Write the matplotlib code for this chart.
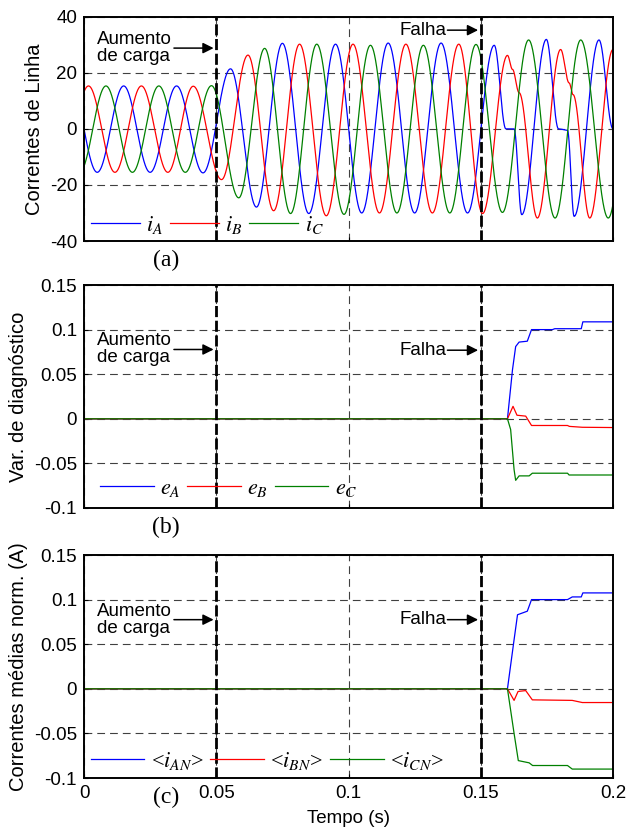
import numpy as np
import matplotlib.pyplot as plt
from matplotlib.lines import Line2D

plt.rcParams['font.family'] = ['Liberation Sans', 'DejaVu Sans']
plt.rcParams['mathtext.fontset'] = 'stix'
plt.rcParams['axes.unicode_minus'] = False

# (a) line currents: extrema (time, value)
iA_t = [-0.005, 0.005, 0.015, 0.025, 0.035, 0.045, 0.0554, 0.0652, 0.075, 0.085, 0.0951,
        0.105, 0.115, 0.125, 0.135, 0.145, 0.1551, 0.1595, 0.1626, 0.1655, 0.1748, 0.1794,
        0.1828, 0.1853, 0.1947, 0.2]
iA_v = [15.3, -15.5, 15.3, -15.5, 15.3, -15.7, 21.4, -27.9, 30.5, -30.2, 30.2,
        -30.0, 30.6, -30.0, 30.6, -30.0, 29.8, 0.0, 0.0, -30.6, 31.9, 0.0,
        -0.5, -31.2, 31.7, 0.0]
iB_t = [-0.0083, 0.0017, 0.0117, 0.0217, 0.0317, 0.0413, 0.052, 0.062, 0.0717, 0.0815,
        0.0916, 0.1017, 0.1117, 0.1217, 0.1317, 0.1417, 0.1507, 0.1601, 0.1620, 0.1645,
        0.1714, 0.1802, 0.1834, 0.1849, 0.1912, 0.2]
iB_v = [-15.5, 15.3, -15.5, 15.3, -15.5, 15.2, -18.1, 26.3, -29.2, 30.2,
        -31.0, 30.2, -30.0, 30.2, -30.0, 30.2, -30.2, 26.2, 21.2, 12.9,
        -31.8, 28.3, 16.4, 12.2, -31.8, 28.3]
iC_t = [-0.0017, 0.0083, 0.0183, 0.0283, 0.0383, 0.0482, 0.0585, 0.0683, 0.0781, 0.088,
        0.0983, 0.1083, 0.1183, 0.1283, 0.1383, 0.1482, 0.1582, 0.1681, 0.1781, 0.1878,
        0.1982, 0.2082]
iC_v = [-15.5, 15.3, -15.5, 15.3, -15.5, 15.4, -24.6, 28.7, -30.2, 30.2,
        -30.5, 29.8, -30.0, 29.8, -30.0, 30.1, -29.8, 31.7, -31.8, 31.7,
        -31.8, 31.7]

# (b) diagnostic variables
eA_t = [0, 0.1601, 0.1620, 0.1632, 0.1645, 0.1676, 0.1692, 0.1771, 0.1780, 0.1880, 0.1886, 0.2]
eA_v = [0, 0, 0.055, 0.081, 0.086, 0.087, 0.100, 0.100, 0.101, 0.101, 0.1087, 0.1087]
eB_t = [0, 0.1601, 0.1622, 0.1637, 0.1670, 0.1692, 0.1828, 0.1835, 0.1884, 0.2]
eB_v = [0, 0, 0.014, 0.004, 0.003, -0.0075, -0.0075, -0.0085, -0.0095, -0.0098]
eC_t = [0, 0.1601, 0.1613, 0.1626, 0.1632, 0.1645, 0.1683, 0.1695, 0.1828, 0.1834, 0.2]
eC_v = [0, 0, -0.012, -0.057, -0.069, -0.064, -0.064, -0.061, -0.061, -0.063, -0.063]

# (c) normalised mean currents
iAN_t = [0, 0.1601, 0.1626, 0.1639, 0.1676, 0.1692, 0.1828, 0.1846, 0.1880, 0.1886, 0.2]
iAN_v = [0, 0, 0.055, 0.083, 0.087, 0.100, 0.100, 0.103, 0.103, 0.1075, 0.1075]
iBN_t = [0, 0.1601, 0.1626, 0.1641, 0.1670, 0.1695, 0.1846, 0.1884, 0.2]
iBN_v = [0, 0, -0.013, -0.003, -0.002, -0.0124, -0.013, -0.0154, -0.0154]
iCN_t = [0, 0.1601, 0.1626, 0.1642, 0.1683, 0.1696, 0.1828, 0.1846, 0.2]
iCN_v = [0, 0, -0.050, -0.0805, -0.083, -0.086, -0.086, -0.090, -0.090]

x_ticks = [0, 0.05, 0.1, 0.15, 0.2]
x_labels = ['0', '0.05', '0.1', '0.15', '0.2']


def wave(tk, vk, t):
    # half-cosine segment between consecutive read extrema
    tk = np.asarray(tk); vk = np.asarray(vk)
    idx = np.clip(np.searchsorted(tk, t) - 1, 0, len(tk) - 2)
    t0, t1 = tk[idx], tk[idx + 1]
    v0, v1 = vk[idx], vk[idx + 1]
    s = np.clip((t - t0) / (t1 - t0), 0, 1)
    return v0 + (v1 - v0) * (1 - np.cos(np.pi * s)) / 2


FS = 13.5
colors = ['#0000ff', '#ff0000', '#008000']
fig = plt.figure(figsize=(6.28, 8.30), dpi=100)
L, W = 84 / 628, 529 / 628
ax1 = fig.add_axes([L, 1 - 241 / 830, W, 224.3 / 830])
ax2 = fig.add_axes([L, 1 - 508 / 830, W, 223 / 830])
ax3 = fig.add_axes([L, 1 - 778 / 830, W, 223 / 830])

t = np.linspace(0, 0.2, 8001)
for tk, vk, c in [(iA_t, iA_v, colors[0]), (iB_t, iB_v, colors[1]), (iC_t, iC_v, colors[2])]:
    ax1.plot(t, wave(tk, vk, t), color=c, lw=0.9)
for tk, vk, c in [(eA_t, eA_v, colors[0]), (eB_t, eB_v, colors[1]), (eC_t, eC_v, colors[2])]:
    ax2.plot(tk, vk, color=c, lw=0.9)
for tk, vk, c in [(iAN_t, iAN_v, colors[0]), (iBN_t, iBN_v, colors[1]), (iCN_t, iCN_v, colors[2])]:
    ax3.plot(tk, vk, color=c, lw=0.9)

ax1.set_ylim(-40, 40)
ax1.set_yticks([-40, -20, 0, 20, 40])
for ax in (ax2, ax3):
    ax.set_ylim(-0.1, 0.15)
    ax.set_yticks([-0.1, -0.05, 0, 0.05, 0.1, 0.15])
    ax.set_yticklabels(['-0.1', '-0.05', '0', '0.05', '0.1', '0.15'])

for ax in (ax1, ax2, ax3):
    ax.set_xlim(0, 0.2)
    ax.set_xticks(x_ticks)
    ax.set_xticklabels(x_labels if ax is ax3 else [])
    ax.grid(True, ls=(0, (7, 4.5)), color='0.25', lw=0.8)
    ax.tick_params(direction='in', length=3, labelsize=FS, pad=5)
    for s in ax.spines.values():
        s.set_linewidth(1.4)
    for xv in (0.05, 0.15):
        ax.axvline(xv, color='k', lw=2.0, ls=(0, (4, 1.3)), zorder=3)

ax1.set_ylabel('Correntes de Linha', fontsize=14.5)
ax2.set_ylabel('Var. de diagnóstico', fontsize=14.5)
ax3.set_ylabel('Correntes médias norm. (A)', fontsize=14.5)
ax3.set_xlabel('Tempo (s)', fontsize=FS, labelpad=6)

arrow = dict(arrowstyle='-|>', color='k', lw=1.1, mutation_scale=16, shrinkA=0, shrinkB=0)
for ax, ty in [(ax1, 28.8), (ax2, 0.0777), (ax3, 0.0775)]:
    ax.text(0.005, ty, 'Aumento\nde carga', fontsize=FS, ha='left', va='center', linespacing=1.0)
    ax.annotate('', xy=(0.049, ty), xytext=(0.0340, ty), arrowprops=arrow)
fy = [35.2, 0.0769, 0.0775]
for ax, ty in zip((ax1, ax2, ax3), fy):
    ax.text(0.1192, ty, 'Falha', fontsize=FS, ha='left', va='center')
    ax.annotate('', xy=(0.149, ty), xytext=(0.1374, ty), arrowprops=arrow)

leg_sets = [
    (ax1, [r'$i_A$', r'$i_B$', r'$i_C$'], (0.0, 0.072), 2.2),
    (ax2, [r'$e_A$', r'$e_B$', r'$e_C$'], (0.018, 0.086), 2.4),
    (ax3, [r'<$i_{AN}$>', r'<$i_{BN}$>', r'<$i_{CN}$>'], (0.0, 0.078), 2.4),
]
for ax, labels, anchor, hl in leg_sets:
    handles = [Line2D([], [], color=c, lw=0.9) for c in colors]
    ax.legend(handles, labels, loc='center left', bbox_to_anchor=anchor, ncol=3,
              frameon=False, handlelength=hl, handletextpad=0.3, columnspacing=0.3,
              borderaxespad=0, borderpad=0.3,
              prop={'size': 16, 'family': 'Liberation Serif'})

for lab, y in [('(a)', 260), ('(b)', 527), ('(c)', 797)]:
    fig.text(166 / 628, 1 - y / 830, lab, ha='center', va='center',
             family='Liberation Serif', fontsize=17)

fig.savefig('out.png', dpi=100)
